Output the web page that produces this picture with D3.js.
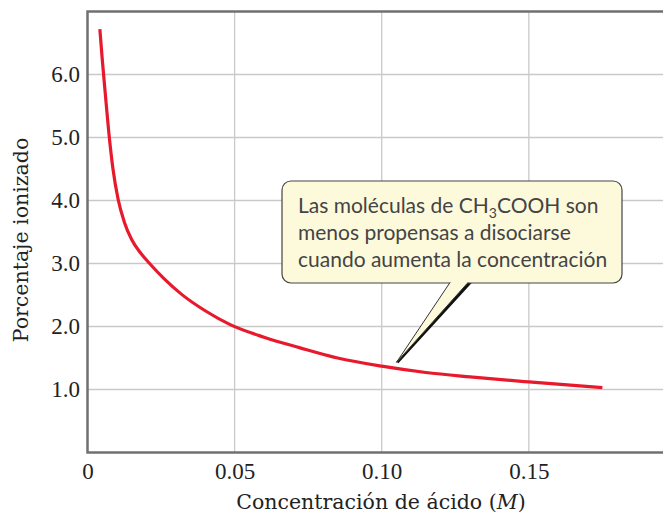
<!DOCTYPE html>
<html>
<head>
  <meta charset="utf-8">
  <title>Porcentaje ionizado</title>
  <style>
    body { margin: 0; background: #fff; }
    .tick text { font-family: "Liberation Serif", serif; font-size: 23px; fill: #222; }
  </style>
</head>
<body>
  <svg width="663" height="515"></svg>
  <script src="https://d3js.org/d3.v7.min.js"></script>
  <script>
  // datos
  var concentracion = [0.0042, 0.0050, 0.0060, 0.0072, 0.0086, 0.0104, 0.0125, 0.0150, 0.0180, 0.0215, 0.0260, 0.0320, 0.0400, 0.0485, 0.0600, 0.0720, 0.0850, 0.1000, 0.1150, 0.1300, 0.1500, 0.1750];
  var porcentaje   = [6.72, 6.25, 5.72, 5.10, 4.52, 4.02, 3.66, 3.38, 3.17, 2.98, 2.76, 2.51, 2.25, 2.03, 1.83, 1.665, 1.50, 1.37, 1.27, 1.20, 1.12, 1.03];
  var xTicks = [0, 0.05, 0.10, 0.15];
  var xTickLabels = ["0", "0.05", "0.10", "0.15"];
  var yTicks = [1, 2, 3, 4, 5, 6];
  var yTickLabels = ["1.0", "2.0", "3.0", "4.0", "5.0", "6.0"];
  var nota = ["Las moléculas de CH", "3", "COOH son", "menos propensas a disociarse", "cuando aumenta la concentración"];
  var puntoNota = [0.105, 1.43];

  var svg = d3.select("svg");
  var mLeft = 87.5, mRight = 663, mTop = 11.5, mBottom = 452.5;

  var x = d3.scaleLinear().domain([0, 0.1956]).range([mLeft, mRight]);
  var y = d3.scaleLinear().domain([0, 7]).range([mBottom, mTop]);

  // cuadrícula
  svg.append("g").selectAll("line")
    .data(xTicks.slice(1))
    .enter().append("line")
    .attr("x1", function(d) { return x(d); })
    .attr("x2", function(d) { return x(d); })
    .attr("y1", mTop).attr("y2", mBottom)
    .attr("stroke", "#c9c9c9").attr("stroke-width", 1.3);

  svg.append("g").selectAll("line")
    .data(yTicks)
    .enter().append("line")
    .attr("x1", mLeft).attr("x2", mRight)
    .attr("y1", function(d) { return y(d); })
    .attr("y2", function(d) { return y(d); })
    .attr("stroke", "#c9c9c9").attr("stroke-width", 1.3);

  // ejes
  var xAxis = svg.append("g")
    .attr("transform", "translate(0," + mBottom + ")")
    .call(d3.axisBottom(x).tickValues(xTicks)
      .tickFormat(function(d, i) { return xTickLabels[i]; })
      .tickSize(0).tickPadding(10.5));
  xAxis.select(".domain").remove();

  var yAxis = svg.append("g")
    .attr("transform", "translate(" + mLeft + ",0)")
    .call(d3.axisLeft(y).tickValues(yTicks)
      .tickFormat(function(d, i) { return yTickLabels[i]; })
      .tickSize(0).tickPadding(7.5));
  yAxis.select(".domain").remove();

  // marco
  svg.append("rect")
    .attr("x", mLeft).attr("y", mTop)
    .attr("width", mRight - mLeft + 10).attr("height", mBottom - mTop)
    .attr("fill", "none").attr("stroke", "#707070").attr("stroke-width", 2.5);

  // curva
  var line = d3.line()
    .x(function(d) { return x(d[0]); })
    .y(function(d) { return y(d[1]); })
    .curve(d3.curveMonotoneX);

  svg.append("path")
    .datum(concentracion.map(function(c, i) { return [c, porcentaje[i]]; }))
    .attr("d", line)
    .attr("fill", "none")
    .attr("stroke", "#e8192c")
    .attr("stroke-width", 3.2);

  // títulos
  svg.append("text")
    .attr("x", 381).attr("y", 509)
    .attr("text-anchor", "middle")
    .style("font-family", "DejaVu Serif, serif")
    .style("font-size", "20.5px")
    .style("fill", "#222")
    .html("Concentración de ácido (<tspan font-style='italic'>M</tspan>)");

  svg.append("text")
    .attr("transform", "translate(28,240) rotate(-90)")
    .attr("text-anchor", "middle")
    .style("font-family", "DejaVu Serif, serif")
    .style("font-size", "20.5px")
    .style("fill", "#222")
    .text("Porcentaje ionizado");

  // nota
  var bx = 282, by = 181, bw = 340, bh = 102;
  var tip = [x(puntoNota[0]), y(puntoNota[1])];
  var g = svg.append("g");

  g.append("path")
    .attr("d", "M471,282 L" + (tip[0] + 1) + "," + tip[1] + " L468,282 Z")
    .attr("fill", "#111").attr("stroke", "#111").attr("stroke-width", 2.5);

  g.append("rect")
    .attr("x", bx).attr("y", by).attr("width", bw).attr("height", bh)
    .attr("rx", 9).attr("ry", 9)
    .attr("fill", "#fdfadc").attr("stroke", "#444").attr("stroke-width", 1.2);

  g.append("path")
    .attr("d", "M450,282.5 L" + tip[0] + "," + tip[1] + " L468,282.5")
    .attr("fill", "#fdfadc").attr("stroke", "#333").attr("stroke-width", 1);
  g.append("line")
    .attr("x1", 451).attr("x2", 467).attr("y1", 282.4).attr("y2", 282.4)
    .attr("stroke", "#fdfadc").attr("stroke-width", 1.6);

  var t = g.append("g")
    .style("font-family", "Lato, sans-serif")
    .style("font-size", "21px")
    .style("fill", "#444");

  var t1 = t.append("text").attr("x", 298).attr("y", 213);
  t1.append("tspan").text(nota[0]);
  t1.append("tspan").attr("dy", 5).style("font-size", "14px").text(nota[1]);
  t1.append("tspan").attr("dy", -5).text(nota[2]);
  t.append("text").attr("x", 298).attr("y", 240).text(nota[3]);
  t.append("text").attr("x", 298).attr("y", 267).text(nota[4]);
  </script>
</body>
</html>
